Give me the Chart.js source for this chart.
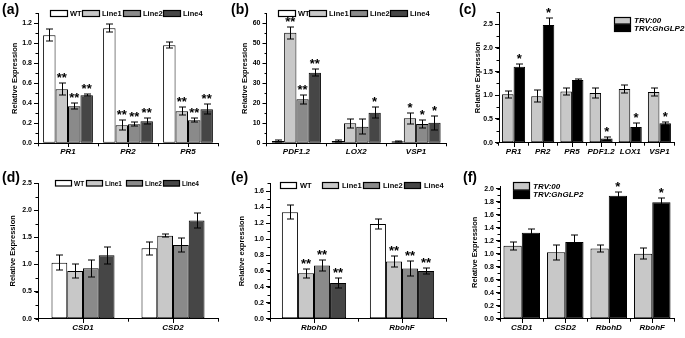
<!DOCTYPE html>
<html><head><meta charset="utf-8">
<script src="https://cdn.jsdelivr.net/npm/chart.js@4.4.1/dist/chart.umd.min.js"></script>
<style>
html,body{margin:0;padding:0;background:#fff;}
body{width:685px;height:338px;position:relative;overflow:hidden;}
canvas{position:absolute;}
.pl{position:absolute;font:bold 14px "Liberation Sans",Arial,sans-serif;color:#000;line-height:14px;}
</style></head><body>
<canvas id="ca" width="228" height="168" style="left:0;top:0"></canvas>
<canvas id="cb" width="228" height="168" style="left:228px;top:0"></canvas>
<canvas id="cc" width="229" height="168" style="left:456px;top:0"></canvas>
<canvas id="cd" width="228" height="170" style="left:0;top:168px"></canvas>
<canvas id="ce" width="228" height="170" style="left:228px;top:168px"></canvas>
<canvas id="cf" width="229" height="170" style="left:456px;top:168px"></canvas>
<div class="pl" style="left:2px;top:2px">(a)</div>
<div class="pl" style="left:231px;top:2px">(b)</div>
<div class="pl" style="left:459px;top:2px">(c)</div>
<div class="pl" style="left:2px;top:170px">(d)</div>
<div class="pl" style="left:231px;top:170px">(e)</div>
<div class="pl" style="left:463px;top:170px">(f)</div>
<script>
const FONT = '"Liberation Sans", Arial, sans-serif';

// ---------- data: panel (a)
const genesA = ['PR1', 'PR2', 'PR5'];
const wtA = [1.08, 1.15, 0.98],   wtAErr = [0.06, 0.04, 0.03];
const line1A = [0.54, 0.18, 0.32], line1AErr = [0.06, 0.05, 0.04];
const line2A = [0.37, 0.19, 0.23], line2AErr = [0.03, 0.02, 0.02];
const line4A = [0.48, 0.22, 0.34], line4AErr = [0.01, 0.03, 0.05];
const starsA1 = ['**', '**', '**'], starsA2 = ['**', '**', '**'], starsA4 = ['**', '**', '**'];
const yTicksA = [0, 0.2, 0.4, 0.6, 0.8, 1.0, 1.2];

// ---------- data: panel (b)
const genesB = ['PDF1.2', 'LOX2', 'VSP1'];
const wtB = [1.2, 1.2, 1.0],       wtBErr = [0.5, 0.3, 0.4];
const line1B = [55.3, 10.0, 12.5], line1BErr = [3.1, 2.2, 2.8];
const line2B = [22.0, 8.3, 9.7],   line2BErr = [2.1, 3.8, 2.2];
const line4B = [35.3, 15.3, 10.3], line4BErr = [1.7, 2.8, 3.5];
const starsB1 = ['**', '', '*'], starsB2 = ['**', '', '*'], starsB4 = ['**', '*', '*'];
const yTicksB = [0, 10, 20, 30, 40, 50, 60];

// ---------- data: panel (c)
const genesC = ['PR1', 'PR2', 'PR5', 'PDF1.2', 'LOX1', 'VSP1'];
const trv00C = [1.02, 0.98, 1.08, 1.05, 1.13, 1.07];
const trv00CErr = [0.07, 0.13, 0.08, 0.11, 0.08, 0.08];
const glpC = [1.60, 2.48, 1.32, 0.09, 0.33, 0.41];
const glpCErr = [0.07, 0.15, 0.03, 0.03, 0.09, 0.03];
const starsC = ['*', '*', '', '*', '*', '*'];
const yTicksC = [0, 0.5, 1.0, 1.5, 2.0, 2.5];

// ---------- data: panel (d)
const genesD = ['CSD1', 'CSD2'];
const wtD = [1.03, 1.30],    wtDErr = [0.14, 0.12];
const line1D = [0.88, 1.53], line1DErr = [0.13, 0.03];
const line2D = [0.93, 1.36], line2DErr = [0.16, 0.13];
const line4D = [1.17, 1.81], line4DErr = [0.16, 0.13];
const yTicksD = [0, 0.5, 1.0, 1.5, 2.0, 2.5];

// ---------- data: panel (e)
const genesE = ['RbohD', 'RbohF'];
const wtE = [1.34, 1.19],    wtEErr = [0.09, 0.06];
const line1E = [0.57, 0.72], line1EErr = [0.06, 0.07];
const line2E = [0.67, 0.63], line2EErr = [0.07, 0.09];
const line4E = [0.45, 0.60], line4EErr = [0.06, 0.04];
const starsE = ['**', '**'];
const yTicksE = [0, 0.2, 0.4, 0.6, 0.8, 1.0, 1.2, 1.4, 1.6];

// ---------- data: panel (f)
const genesF = ['CSD1', 'CSD2', 'RbohD', 'RbohF'];
const trv00F = [1.12, 1.02, 1.08, 1.00], trv00FErr = [0.06, 0.11, 0.06, 0.08];
const glpF = [1.32, 1.18, 1.89, 1.79],   glpFErr = [0.06, 0.10, 0.06, 0.07];
const starsF = ['', '', '*', '*'];
const yTicksF = [0, 0.2, 0.4, 0.6, 0.8, 1.0, 1.2, 1.4, 1.6, 1.8, 2.0];

// ---------- styles
const C_WT = '#ffffff', C_L1 = '#c8c8c8', C_L2 = '#8a8a8a', C_L4 = '#464646';
const C_TRV = '#c8c8c8', C_GLP = '#000000';

function px(v) { return Math.round(v) + 0.5; }

function makeChart(id, cfg) {
  const cv = document.getElementById(id);
  const W = cv.width, H = cv.height;
  const XH = 20;
  const A = cfg.area;
  const extras = {
    id: 'extras_' + id,
    afterDatasetsDraw(chart) {
      const ctx = chart.ctx;
      const ys = chart.scales.y;
      ctx.save();
      chart.data.datasets.forEach((d, i) => {
        const meta = chart.getDatasetMeta(i);
        meta.data.forEach((bar, j) => {
          const v = d.data[j], e = d.errors[j];
          const x = px(bar.x);
          const yt = ys.getPixelForValue(v + e), yb = ys.getPixelForValue(Math.max(0, v - e));
          ctx.strokeStyle = '#000'; ctx.lineWidth = 1;
          ctx.beginPath();
          ctx.moveTo(x, Math.round(yt)); ctx.lineTo(x, Math.round(yb));
          ctx.moveTo(x - 3.5, px(yt) - 0.5); ctx.lineTo(x + 3.5, px(yt) - 0.5);
          ctx.moveTo(x - 3.5, px(yb) - 0.5); ctx.lineTo(x + 3.5, px(yb) - 0.5);
          ctx.stroke();
          const s = d.stars && d.stars[j];
          if (s) {
            ctx.fillStyle = '#000';
            ctx.font = 'bold 13px ' + FONT;
            ctx.textAlign = 'center'; ctx.textBaseline = 'alphabetic';
            ctx.fillText(s, bar.x, yt - 1);
          }
        });
      });
      ctx.restore();
    },
    afterDraw(chart) {
      const ctx = chart.ctx;
      const ys = chart.scales.y, xs = chart.scales.x;
      const ca = chart.chartArea;
      ctx.save();
      ctx.strokeStyle = '#000'; ctx.lineWidth = 1;
      ctx.beginPath();
      const ax = px(ca.left) - 0.5;
      for (let k = 0; k * cfg.minor <= ys.max + 1e-9; k++) {
        const y = px(ys.getPixelForValue(k * cfg.minor));
        ctx.moveTo(ax, y); ctx.lineTo(ax - 2.5, y);
      }
      const by = Math.round(ca.bottom);
      for (let i = 0; i < chart.data.labels.length; i++) {
        const x = px(xs.getPixelForValue(i));
        ctx.moveTo(x, by); ctx.lineTo(x, by + 4);
      }
      ctx.stroke();
      const L = cfg.legend;
      ctx.font = L.font;
      ctx.textAlign = 'left'; ctx.textBaseline = 'middle';
      chart.data.datasets.forEach((d, i) => {
        let bx, by2;
        if (L.mode === 'row') { bx = L.xs[i]; by2 = L.y; }
        else { bx = L.x; by2 = L.y + i * L.boxH; }
        ctx.fillStyle = d.backgroundColor;
        ctx.fillRect(bx, by2, L.boxW, L.boxH);
        ctx.strokeStyle = '#000'; ctx.lineWidth = 1.2;
        ctx.strokeRect(bx + 0.5, by2 + 0.5, L.boxW - 1, L.boxH - 1);
        ctx.fillStyle = '#000';
        ctx.fillText(d.label, bx + L.boxW + L.gap, by2 + L.boxH / 2 + 0.5);
      });
      ctx.restore();
    }
  };
  return new Chart(cv, {
    type: 'bar',
    data: {
      labels: cfg.labels,
      datasets: cfg.datasets.map(d => ({
        label: d.label, data: d.data, errors: d.err, stars: d.stars || [],
        backgroundColor: d.color, borderColor: '#000', borderWidth: 1, borderSkipped: false,
        categoryPercentage: cfg.catPct, barPercentage: 1
      }))
    },
    options: {
      responsive: false, animation: false, devicePixelRatio: 1,
      layout: { padding: { left: cfg.padLeft, right: W - A.right, top: A.top, bottom: H - A.bottom - XH } },
      plugins: { legend: { display: false }, tooltip: { enabled: false } },
      scales: {
        x: {
          afterFit: s => { s.height = XH; },
          border: { display: true, color: '#000', width: 1 },
          grid: { display: true, drawOnChartArea: false, drawTicks: true, tickLength: 3, color: '#000', lineWidth: 1 },
          ticks: { color: '#000', font: { family: FONT, size: 8, weight: 'bold', style: 'italic' }, padding: 1, maxRotation: 0, autoSkip: false }
        },
        y: {
          min: 0, max: cfg.max,
          afterFit: s => { s.width = A.left - cfg.padLeft; },
          afterBuildTicks: s => { s.ticks = cfg.ticks.map(v => ({ value: v })); },
          border: { display: true, color: '#000', width: 1 },
          grid: { display: true, drawOnChartArea: false, drawTicks: true, tickLength: 4, color: '#000', lineWidth: 1 },
          ticks: { color: '#000', padding: 2, font: { family: FONT, size: 7, weight: 'bold' }, callback: v => Number(v).toFixed(cfg.dec) },
          title: { display: true, text: cfg.ytitle, color: '#000', padding: 0, font: { family: FONT, size: 7.5, weight: 'bold' } }
        }
      }
    },
    plugins: [extras]
  });
}

const rowFont = 'bold 7.5px ' + FONT;
const rowFontSmall = 'bold 6.5px ' + FONT;
const colFont = 'italic bold 8px ' + FONT;

makeChart('ca', {
  labels: genesA, max: 1.3, ticks: yTicksA, dec: 1, minor: 0.1, catPct: 0.83,
  area: { left: 38, right: 218, top: 13.3, bottom: 143.3 }, padLeft: 10.5, ytitle: 'Relative Expression',
  legend: { mode: 'row', xs: [50, 82, 123, 163], y: 10, boxW: 18, boxH: 7, gap: 2, font: rowFont },
  datasets: [
    { label: 'WT', data: wtA, err: wtAErr, color: C_WT },
    { label: 'Line1', data: line1A, err: line1AErr, color: C_L1, stars: starsA1 },
    { label: 'Line2', data: line2A, err: line2AErr, color: C_L2, stars: starsA2 },
    { label: 'Line4', data: line4A, err: line4AErr, color: C_L4, stars: starsA4 }
  ]
});

makeChart('cb', {
  labels: genesB, max: 65, ticks: yTicksB, dec: 0, minor: 5, catPct: 0.82,
  area: { left: 38.5, right: 218, top: 13.3, bottom: 143.3 }, padLeft: 12.5, ytitle: 'Relative Expression',
  legend: { mode: 'row', xs: [50, 81, 122, 162], y: 10, boxW: 18, boxH: 7, gap: 2, font: rowFont },
  datasets: [
    { label: 'WT', data: wtB, err: wtBErr, color: C_WT },
    { label: 'Line1', data: line1B, err: line1BErr, color: C_L1, stars: starsB1 },
    { label: 'Line2', data: line2B, err: line2BErr, color: C_L2, stars: starsB2 },
    { label: 'Line4', data: line4B, err: line4BErr, color: C_L4, stars: starsB4 }
  ]
});

makeChart('cc', {
  labels: genesC, max: 2.75, ticks: yTicksC, dec: 1, minor: 0.25, catPct: 0.79,
  area: { left: 43, right: 218, top: 12.3, bottom: 142.7 }, padLeft: 17.5, ytitle: 'Relative Expression',
  legend: { mode: 'col', x: 158, y: 17, boxW: 17, boxH: 7.5, gap: 3, font: colFont },
  datasets: [
    { label: 'TRV:00', data: trv00C, err: trv00CErr, color: C_TRV },
    { label: 'TRV:GhGLP2', data: glpC, err: glpCErr, color: C_GLP, stars: starsC }
  ]
});

makeChart('cd', {
  labels: genesD, max: 2.5, ticks: yTicksD, dec: 1, minor: 0.25, catPct: 0.70,
  area: { left: 38, right: 218, top: 15, bottom: 150.7 }, padLeft: 8.5, ytitle: 'Relative Expression',
  legend: { mode: 'row', xs: [55, 86, 126, 163], y: 12, boxW: 17, boxH: 6.5, gap: 2, font: rowFontSmall },
  datasets: [
    { label: 'WT', data: wtD, err: wtDErr, color: C_WT },
    { label: 'Line1', data: line1D, err: line1DErr, color: C_L1 },
    { label: 'Line2', data: line2D, err: line2DErr, color: C_L2 },
    { label: 'Line4', data: line4D, err: line4DErr, color: C_L4 }
  ]
});

makeChart('ce', {
  labels: genesE, max: 1.7, ticks: yTicksE, dec: 1, minor: 0.1, catPct: 0.73,
  area: { left: 42, right: 218, top: 15.5, bottom: 150.7 }, padLeft: 9, ytitle: 'Relative expression',
  legend: { mode: 'row', xs: [52, 94, 135, 176], y: 14, boxW: 17, boxH: 7, gap: 3, font: rowFont },
  datasets: [
    { label: 'WT', data: wtE, err: wtEErr, color: C_WT },
    { label: 'Line1', data: line1E, err: line1EErr, color: C_L1, stars: starsE },
    { label: 'Line2', data: line2E, err: line2EErr, color: C_L2, stars: starsE },
    { label: 'Line4', data: line4E, err: line4EErr, color: C_L4, stars: starsE }
  ]
});

makeChart('cf', {
  labels: genesF, max: 2.04, ticks: yTicksF, dec: 1, minor: 0.1, catPct: 0.84,
  area: { left: 44, right: 218, top: 18, bottom: 150.7 }, padLeft: 14, ytitle: 'Relative Expression',
  legend: { mode: 'col', x: 57, y: 14, boxW: 17, boxH: 8.5, gap: 3, font: colFont },
  datasets: [
    { label: 'TRV:00', data: trv00F, err: trv00FErr, color: C_TRV },
    { label: 'TRV:GhGLP2', data: glpF, err: glpFErr, color: C_GLP, stars: starsF }
  ]
});
</script>
</body></html>
